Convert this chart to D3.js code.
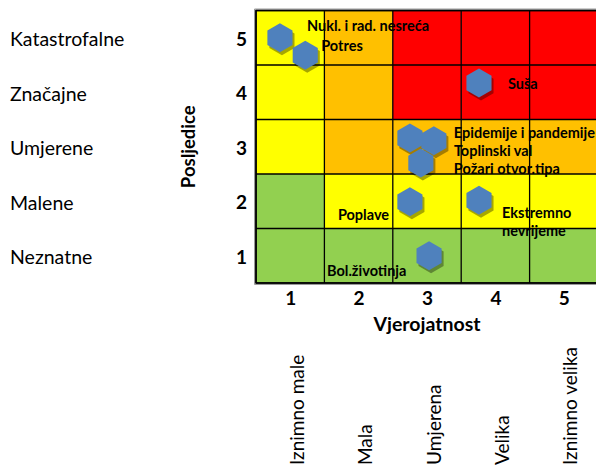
<!DOCTYPE html>
<html>
<head>
<meta charset="utf-8">
<script src="https://cdn.jsdelivr.net/npm/d3@7"></script>
<style>
  html, body { margin: 0; padding: 0; background: #ffffff; }
  svg { display: block; }
  text { font-family: "Lato", "Carlito", "Noto Sans", sans-serif; fill: #000; }
</style>
</head>
<body>
<svg id="chart" width="596" height="467"></svg>
<script>
// ---------- data ----------
const likelihoodTicks = [1, 2, 3, 4, 5];
const impactTicks = [1, 2, 3, 4, 5];
const likelihoodNames = ["Iznimno male", "Mala", "Umjerena", "Velika", "Iznimno velika"];
const impactNames = ["Neznatne", "Malene", "Umjerene", "Značajne", "Katastrofalne"];
// risk level of each cell: rows = impact 1..5, columns = likelihood 1..5
const cellLevels = [
  ["low", "low", "low", "low", "low"],
  ["low", "medium", "medium", "medium", "medium"],
  ["medium", "high", "high", "high", "high"],
  ["medium", "high", "extreme", "extreme", "extreme"],
  ["medium", "high", "extreme", "extreme", "extreme"]
];
const riskNames = ["Nukl. i rad. nesreća", "Potres", "Suša", "Epidemije i pandemije",
                   "Toplinski val", "Požari otvor.tipa", "Poplave", "Ekstremno nevrijeme", "Bol.životinja"];
const riskLikelihood = [0.85, 1.22, 3.76, 3.10, 2.75, 2.91, 2.75, 3.76, 3.03];
const riskImpact     = [5.00, 4.68, 4.17, 3.11, 3.16, 2.70, 1.99, 2.02, 1.00];
const xTitle = "Vjerojatnost";
const yTitle = "Posljedice";

// ---------- layout ----------
const svg = d3.select("#chart");
const x = d3.scaleLinear().domain([0.5, 5.5]).range([256, 598]);
const y = d3.scaleLinear().domain([0.5, 5.5]).range([283, 10.5]);
const levelColor = d3.scaleOrdinal()
  .domain(["low", "medium", "high", "extreme"])
  .range(["#92D050", "#FFFF00", "#FFC000", "#FF0000"]);

// label placement (pixel offsets from the marker), one per risk
const labelOffsets = [[27, -12], [16, -10], [29, 1], [20, -8], [44, 12], [33, 5], [-72, 13], [23, 12], [-102, 15]];

// ---------- cells ----------
const cells = [];
cellLevels.forEach((row, i) => row.forEach((lvl, j) => cells.push({ xi: likelihoodTicks[j], yi: impactTicks[i], lvl })));
const gCells = svg.append("g");
gCells.selectAll("rect").data(cells).join("rect")
  .attr("x", d => x(d.xi - 0.5))
  .attr("y", d => y(d.yi + 0.5))
  .attr("width", d => x(d.xi + 0.5) - x(d.xi - 0.5))
  .attr("height", d => y(d.yi - 0.5) - y(d.yi + 0.5))
  .attr("fill", d => levelColor(d.lvl));

// grid lines
const gGrid = svg.append("g").attr("stroke", "#000").attr("stroke-width", 1.3);
d3.range(0.5, 6, 1).forEach(v => {
  gGrid.append("line").attr("x1", x(v)).attr("x2", x(v)).attr("y1", y(0.5)).attr("y2", y(5.5));
  gGrid.append("line").attr("x1", x(0.5)).attr("x2", x(5.5)).attr("y1", y(v)).attr("y2", y(v));
});
// outer frame
svg.append("path")
  .attr("d", `M${x(5.5)},${y(5.5) - 1.5}H${x(0.5) - 1.5}V${y(0.5) + 1.5}H${x(5.5)}`)
  .attr("fill", "none").attr("stroke", "#9a9a9a").attr("stroke-width", 1);
svg.append("path")
  .attr("d", `M${x(5.5)},${y(5.5)}H${x(0.5)}V${y(0.5)}H${x(5.5)}`)
  .attr("fill", "none").attr("stroke", "#000").attr("stroke-width", 1.6);

// ---------- axes ----------
const xAxis = d3.axisBottom(x).tickValues(likelihoodTicks).tickSize(0).tickPadding(0).tickFormat(d3.format("d"));
const gx = svg.append("g").attr("transform", `translate(0,${y(0.5) + 14})`).call(xAxis);
gx.select(".domain").remove();
gx.selectAll("text").attr("font-size", 19).attr("font-weight", "bold")
  .attr("dy", null).attr("dominant-baseline", "central").style("font-family", "Lato");

const yAxis = d3.axisLeft(y).tickValues(impactTicks).tickSize(0).tickPadding(0).tickFormat(d3.format("d"));
const gy = svg.append("g").attr("transform", `translate(${x(0.5) - 9},0)`).call(yAxis);
gy.select(".domain").remove();
gy.selectAll("text").attr("font-size", 19).attr("font-weight", "bold")
  .attr("dy", null).attr("dominant-baseline", "central").style("font-family", "Lato");

svg.append("text").attr("x", (x(0.5) + x(5.5)) / 2).attr("y", y(0.5) + 40)
  .attr("text-anchor", "middle").attr("dominant-baseline", "central")
  .attr("font-size", 19.5).attr("font-weight", "bold").text(xTitle);

svg.append("text").attr("transform", `translate(188,${(y(0.5) + y(5.5)) / 2}) rotate(-90)`)
  .attr("text-anchor", "middle").attr("dominant-baseline", "central")
  .attr("font-size", 18.5).attr("font-weight", "bold").text(yTitle);

// category names
svg.append("g").selectAll("text").data(impactTicks).join("text")
  .attr("x", 10).attr("y", d => y(d) + 1)
  .attr("dominant-baseline", "central").attr("font-size", 19.5)
  .text((d, i) => impactNames[i]);

svg.append("g").selectAll("text").data(likelihoodTicks).join("text")
  .attr("transform", d => `translate(${x(d) + 6},465) rotate(-90)`)
  .attr("text-anchor", "start").attr("dominant-baseline", "central").attr("font-size", 19)
  .text((d, i) => likelihoodNames[i]);

// ---------- risk markers ----------
const r = 14.5;
const hex = d3.range(6).map(k => {
  const a = Math.PI / 3 * k - Math.PI / 2;
  return [r * Math.cos(a), r * Math.sin(a)];
});
const hexPath = "M" + hex.map(p => p.join(",")).join("L") + "Z";
const risks = riskNames.map((n, i) => ({ n, lx: riskLikelihood[i], ly: riskImpact[i], off: labelOffsets[i] }));

const gShadow = svg.append("g");
gShadow.selectAll("path").data(risks).join("path")
  .attr("d", hexPath)
  .attr("transform", d => `translate(${x(d.lx) + 2},${y(d.ly) + 3})`)
  .attr("fill", "#000").attr("opacity", 0.35);
const gPts = svg.append("g");
gPts.selectAll("path").data(risks).join("path")
  .attr("d", hexPath)
  .attr("transform", d => `translate(${x(d.lx)},${y(d.ly)})`)
  .attr("fill", "#4F81BD");

// labels
const gLab = svg.append("g");
risks.forEach(d => {
  const words = d.n === "Ekstremno nevrijeme" ? ["Ekstremno", "nevrijeme"] : [d.n];
  words.forEach((w, k) => {
    gLab.append("text")
      .attr("x", x(d.lx) + d.off[0])
      .attr("y", y(d.ly) + d.off[1] + k * 18.5)
      .attr("dominant-baseline", "central")
      .attr("font-size", 14.5).attr("font-weight", "bold")
      .attr("fill", "#1a1a1a")
      .text(w);
  });
});
</script>
</body>
</html>
